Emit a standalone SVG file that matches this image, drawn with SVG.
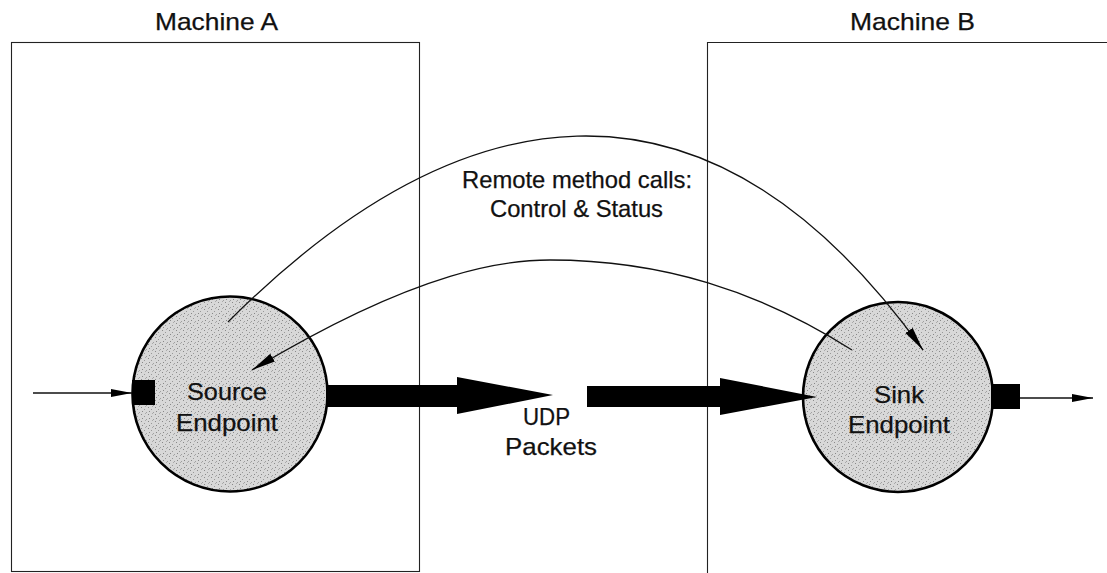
<svg xmlns="http://www.w3.org/2000/svg" width="1107" height="573" viewBox="0 0 1107 573">
<style>
  .lbl { font-family: "Liberation Sans", Arial, sans-serif; font-size: 24px; fill: #111; stroke: #111; stroke-width: 0.25; text-anchor: middle; }
  .box { fill: none; stroke: #222; stroke-width: 1.1; }
  .ep { fill: url(#stip); stroke: #000; stroke-width: 2.6; }
  .port { fill: #000; }
  .thin { fill: none; stroke: #111; stroke-width: 1.3; }
  .fat { fill: #000; }
</style>
<defs>
  <pattern id="stip" width="7" height="7" patternUnits="userSpaceOnUse">
    <rect width="7" height="7" fill="#d8d8d8"/>
    <rect x="1" y="1" width="1" height="1" fill="#8a8a8a"/>
    <rect x="4" y="3" width="1" height="1" fill="#999"/>
    <rect x="2" y="5" width="1" height="1" fill="#888"/>
    <rect x="6" y="6" width="1" height="1" fill="#a0a0a0"/>
    <rect x="5" y="0" width="1" height="1" fill="#aaa"/>
  </pattern>
  <marker id="ah" viewBox="0 0 24 10" refX="24" refY="5" markerWidth="24" markerHeight="10" orient="auto" markerUnits="userSpaceOnUse">
    <path d="M0,0.5 L24,5 L0,9.5 Z" fill="#000"/>
  </marker>
  <marker id="ahs" viewBox="0 0 21 9" refX="21" refY="4.5" markerWidth="21" markerHeight="9" orient="auto" markerUnits="userSpaceOnUse">
    <path d="M0,0.5 L21,4.5 L0,8.5 Z" fill="#000"/>
  </marker>
</defs>
<rect width="1107" height="573" fill="#fff"/>

<g id="machineA">
  <rect class="box" x="11.5" y="42.5" width="408" height="529"/>
  <text class="lbl" x="216.5" y="30" textLength="123" lengthAdjust="spacingAndGlyphs">Machine A</text>
</g>

<g id="machineB">
  <path class="box" d="M1107,42.5 H707.5 V573"/>
  <text class="lbl" x="912.5" y="30" textLength="125" lengthAdjust="spacingAndGlyphs">Machine B</text>
</g>

<g id="source">
  <circle class="ep" cx="230" cy="394" r="97.5"/>
  <rect class="port" x="132" y="380" width="23" height="25"/>
  <text class="lbl" x="227" y="400" textLength="80" lengthAdjust="spacingAndGlyphs">Source</text>
  <text class="lbl" x="227" y="431" textLength="102" lengthAdjust="spacingAndGlyphs">Endpoint</text>
</g>

<g id="sink">
  <circle class="ep" cx="898" cy="397" r="95"/>
  <rect class="port" x="991" y="384" width="29" height="25"/>
  <text class="lbl" x="899" y="403" textLength="50" lengthAdjust="spacingAndGlyphs">Sink</text>
  <text class="lbl" x="899" y="433" textLength="102" lengthAdjust="spacingAndGlyphs">Endpoint</text>
</g>

<g id="connectors">
  <path class="thin" d="M33,393 H132" marker-end="url(#ahs)"/>
  <path class="thin" d="M1020,398 H1093" marker-end="url(#ahs)"/>
  <path class="thin" d="M228,322 C453,97 702,42 923,350" marker-end="url(#ah)"/>
  <path class="thin" d="M852,350 C759,291 662,260 550,260 C510,260 423,267 252,370" marker-end="url(#ah)"/>
  <polygon class="fat" points="326,385 457,385 457,377 553,395 457,414 457,407 326,407"/>
  <polygon class="fat" points="587,386 720,386 720,378 817,397 720,415 720,407 587,407"/>
  <text class="lbl" x="577" y="188" textLength="230" lengthAdjust="spacingAndGlyphs">Remote method calls:</text>
  <text class="lbl" x="576.5" y="217" textLength="173" lengthAdjust="spacingAndGlyphs">Control &amp; Status</text>
  <text class="lbl" x="546.5" y="425" textLength="47" lengthAdjust="spacingAndGlyphs">UDP</text>
  <text class="lbl" x="551" y="455" textLength="92" lengthAdjust="spacingAndGlyphs">Packets</text>
</g>
</svg>
